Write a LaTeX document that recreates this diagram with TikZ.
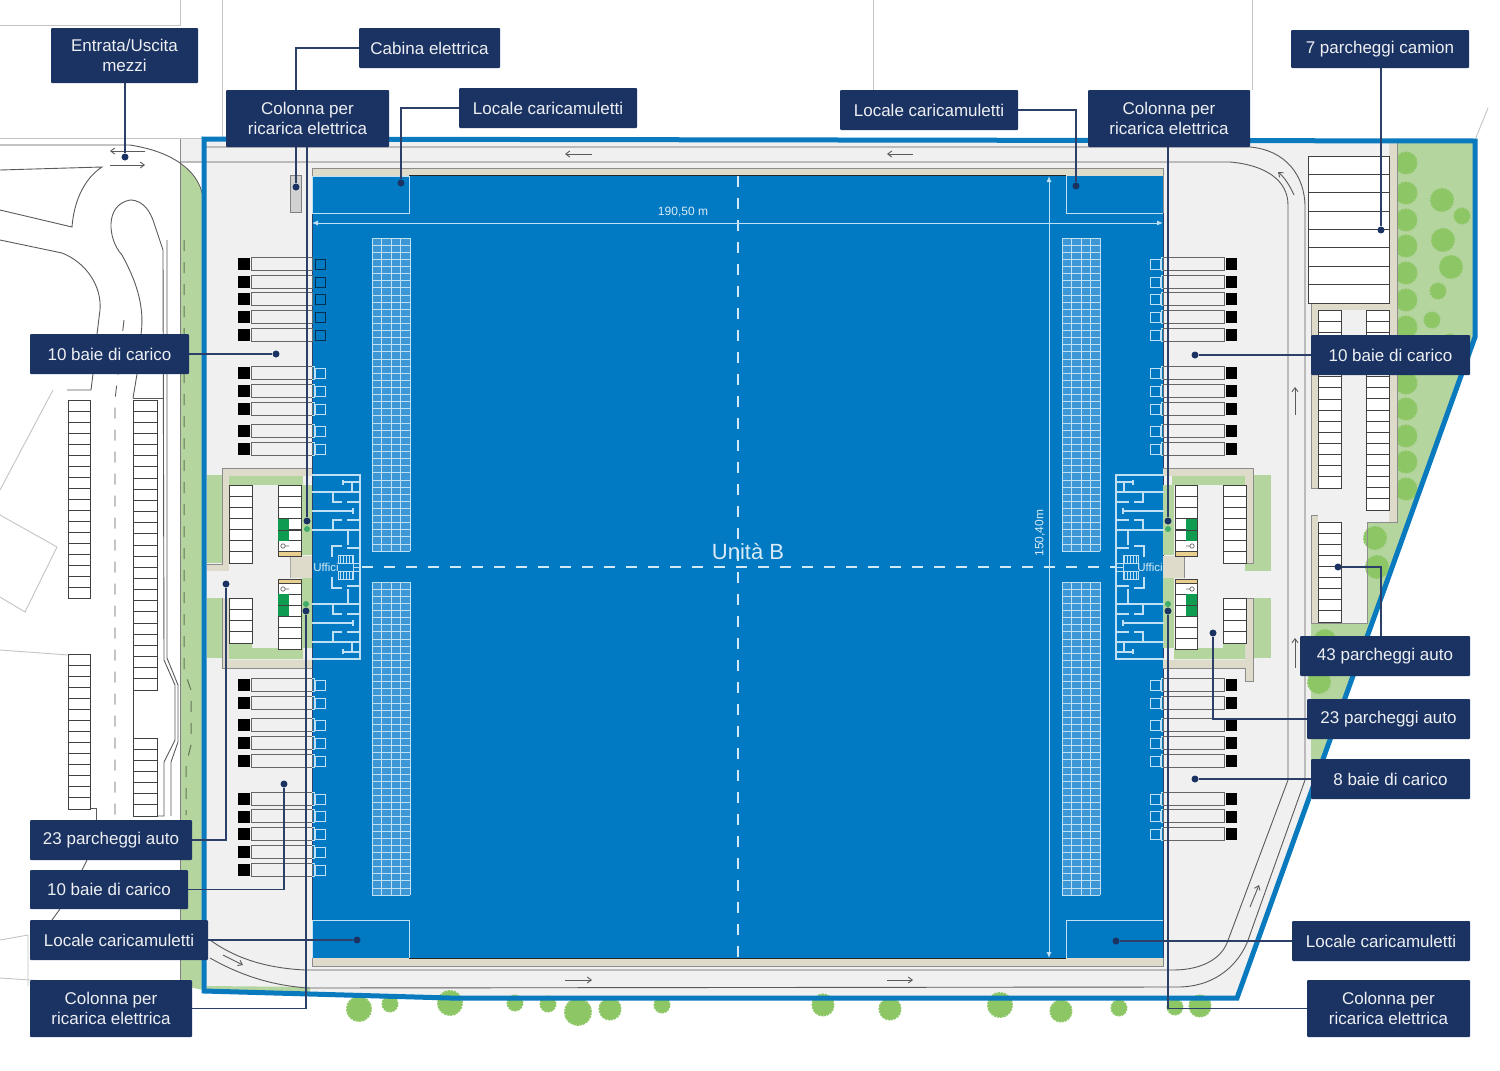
\documentclass[tikz,border=0pt]{standalone}
\usepackage{fontspec}
\setmainfont{Liberation Sans}
\usetikzlibrary{arrows.meta}
\pgfdeclarelayer{lab}
\pgfsetlayers{main,lab}
\definecolor{navy}{HTML}{1B3362}
\definecolor{connc}{HTML}{2C3F68}
\definecolor{siteblue}{HTML}{0A7ABF}
\definecolor{bldblue}{HTML}{0279C3}
\definecolor{floorg}{HTML}{F0F0F0}
\definecolor{lawn}{HTML}{B5D59F}
\definecolor{beigeb}{HTML}{DFDBCB}
\definecolor{treeg}{HTML}{8CC665}
\definecolor{stallg}{HTML}{0F9B50}
\definecolor{paleline}{HTML}{BFE0F5}
\definecolor{gridfill}{HTML}{3D97D4}
\definecolor{roadl}{HTML}{5A5A5A}
\definecolor{faint}{HTML}{C4C4C4}
\definecolor{strip}{HTML}{E8CF8F}
\tikzset{
  lbl/.style={fill=navy,text=white!92!navy,rounded corners=1pt,inner sep=0pt,align=center,font=\fontsize{17}{20}\selectfont},
  conn/.style={draw=connc,line width=1.2pt},
  dotn/.style={circle,fill=navy,inner sep=0pt,minimum size=7pt},
  roadline/.style={draw=roadl,line width=0.9pt},
  faintline/.style={draw=faint,line width=0.9pt},
  stall/.style={draw=black!75,line width=0.9pt},
  wall/.style={draw=paleline,line width=1.3pt},
  tinyarrow/.style={draw=roadl,line width=0.9pt,-{Straight Barb[length=4pt,width=6pt]}},
  dim/.style={draw=paleline,line width=1pt,{Latex[length=6pt,width=5pt]}-{Latex[length=6pt,width=5pt]}},
  dashw/.style={draw=paleline!70!white,line width=1.3pt,dash pattern=on 11pt off 11pt},
  bldtxt/.style={text=white!85!bldblue,inner sep=0pt},
  dockdoor/.style={draw=black!60,fill=floorg,line width=1pt},
  tree/.style={fill=treeg,draw=treeg,line width=2.2pt,dash pattern=on 2.4pt off 0.7pt}
}
\newcommand\parkrows[5]{%
  \fill[white] (#1,#3) rectangle (#2,#4);
  \draw[stall] (#1,#3) rectangle (#2,#4);
  \pgfmathsetmacro\rowstep{(#4-#3)/#5}
  \foreach \i in {1,...,#5}{\draw[stall] (#1,{#3+\i*\rowstep}) -- (#2,{#3+\i*\rowstep});}
}
\newcommand\gridblock[4]{%
  \fill[gridfill] (#1,#3) rectangle (#2,#4);
  \pgfmathsetmacro\vstep{(#2-#1)/4}
  \pgfmathsetmacro\rowsn{int((#4-#3)/7)}
  \pgfmathsetmacro\hstep{(#4-#3)/\rowsn}
  \foreach \i in {0,...,4}{\draw[paleline,line width=0.7pt] ({#1+\i*\vstep},#3) -- ({#1+\i*\vstep},#4);}
  \foreach \i in {0,...,\rowsn}{\draw[paleline,line width=0.7pt] (#1,{#3+\i*\hstep}) -- (#2,{#3+\i*\hstep});}
}
% office walls, upper left quarter; mirrored for the other three
\newcommand\officewalls{%
  \draw[wall] (312,475) -- (360,475) -- (360,567);
  \draw[wall] (312,492) -- (360,492);
  \draw[wall] (312,511) -- (353,511) (353,508) -- (353,514);
  \draw[wall] (312,530) -- (360,530);
  \draw[wall] (333,492) -- (333,502) -- (342,502) (347,502) -- (360,502);
  \draw[wall] (343,482) -- (360,482) (343,480) -- (343,485) (352,482) -- (352,492);
  \draw[wall] (342,520) -- (333,520) -- (333,530) (347,520) -- (360,520);
  \draw[wall] (348,530) -- (348,545);
  \draw[wall] (332,557) -- (332,546) -- (342,546) (347,548) -- (360,548);
  \draw[paleline,line width=0.7pt] (338,555) rectangle (353,563);
  \foreach \xx in {340,343,...,352}{\draw[paleline,line width=0.7pt] (\xx,555) -- (\xx,563);}
  \draw[paleline,line width=0.7pt] (353,563) rectangle (360,567);
}
\newcommand\treeat[3]{\filldraw[tree] (#1,#2) circle ({(#3-1.1)*1pt});}
\begin{document}
\begin{tikzpicture}[x=1pt,y=-1pt]
\useasboundingbox (0,0) rectangle (1500,1071);
\fill[white] (0,0) rectangle (1500,1071);
% --- surrounding plot lines
\draw[faintline] (0,25) -- (180,25) -- (180,0);
\draw[faintline] (222,0) -- (222,138);
\draw[faintline] (873,0) -- (873,108);
\draw[faintline] (1252,0) -- (1252,90);
\draw[faintline] (1475,140) -- (1488,108);
\draw[faintline] (0,138) -- (205,138);
\draw[faintline] (53,390) -- (0,490);
\draw[faintline] (0,515) -- (57,547) -- (25,612) -- (0,597);
\draw[faintline] (0,650) -- (68,655);
\draw[faintline] (0,940) -- (28,935) -- (28,986);
\draw[faintline] (0,978) -- (60,982);
% --- left access road
\draw[roadline] (0,145) -- (130,145) .. controls (155,149) and (170,156) .. (180,163);
\draw[roadline] (0,170) -- (102,167) .. controls (85,178) and (74,200) .. (72,227) -- (0,210);
\draw[roadline] (0,240) -- (62,253) .. controls (85,262) and (102,285) .. (100,310) -- (97,334);
\draw[roadline] (93,374) -- (91,390) -- (67,390);
\draw[roadline] (141,334) .. controls (146,300) and (130,270) .. (122,255) .. controls (108,240) and (104,205) .. (130,200) .. controls (145,200) and (151,215) .. (153,220) -- (163,250) -- (164,660) -- (175,685) -- (175,740) -- (164,762) -- (164,816) -- (133,816);
\draw[roadline] (137,374) -- (133,398);
\draw[roadline] (167,240) -- (167,658) -- (178,685) -- (178,742) -- (171,762) -- (171,816);
\draw[roadline] (133,398) -- (164,398);
\draw[roadline] (68,808) -- (96,808) -- (96,820);
\draw[roadline] (82,870) -- (87,860);
\draw[roadline] (52,920) -- (60,909);
\draw[roadline,dash pattern=on 11pt off 11pt] (124,320) -- (115,400) -- (115,816);
\parkrows{68}{90}{400}{598}{18}
\parkrows{68}{90}{654}{809}{14}
\parkrows{133}{157}{400}{690}{26}
\parkrows{133}{157}{738}{816}{7}
\draw[stall] (133,690) -- (133,738);
% --- entrance arrows
\draw[tinyarrow] (145,151) -- (110,151);
\draw[tinyarrow] (110,165) -- (145,165);
% --- site
\fill[floorg] (180,139) rectangle (204,163);
\draw[draw=black!45,line width=0.8pt] (180,139) -- (180,163);
\fill[lawn] (180,163) .. controls (190,170) and (200,180) .. (203,197) -- (203,990) -- (180,985) -- cycle;
\fill[floorg] (204,139) -- (1475,141) -- (1475,337) -- (1237,998) -- (450,998) -- (204,991) -- cycle;
\draw[black!50,line width=0.8pt] (180,163) -- (180,985);
\draw[draw=black!45!lawn,line width=1pt,dash pattern=on 11pt off 11pt] (184,240) -- (184,670) -- (191,690) -- (191,745) -- (186,765) -- (186,815);
\draw[roadl,line width=0.8pt] (180,163) .. controls (190,170) and (200,180) .. (203,197);
\fill[lawn] (207,986) -- (310,987) -- (310,994) -- (207,990) -- cycle;
% right green zone
\fill[lawn] (1397,143) -- (1473,143) -- (1473,337) -- (1322,760) -- (1311,760) -- (1311,623) -- (1367,623) -- (1367,522) -- (1396,522) -- cycle;
% trees
\foreach \yy in {163,193,220,246,273,300,327,353,383,409,436,462,489}{\treeat{1406}{\yy}{11.5}}
\treeat{1442}{200}{12}\treeat{1462}{216}{8.5}\treeat{1443}{240}{12}\treeat{1451}{267}{12}
\treeat{1438}{291}{8.5}\treeat{1432}{320}{8.5}\treeat{1450}{342}{8.5}
\treeat{1375}{538}{12}\treeat{1377}{567}{12}\treeat{1325}{640}{11}\treeat{1319}{682}{12}
\foreach \xx/\yy/\rr in {359/1009/13,390/1004/8.5,450/1003/13,515/1003/8.5,548/1004/8.5,578/1012/14,610/1009/11.5,662/1005/8.5,823/1005/11.5,890/1009/11.5,1000/1005/13,1061/1011/11.5,1119/1008/8.5,1175/1007/8.5,1200/1006/11.5}{\treeat{\xx}{\yy}{\rr}}
% roads inside site
\draw[roadline] (205,147) -- (1250,147) .. controls (1285,150) and (1305,175) .. (1305,207) -- (1305,780) -- (1247,943) .. controls (1235,970) and (1210,987) .. (1178,987) -- (307,988) .. controls (270,985) and (240,975) .. (210,958);
\draw[roadline] (180,162) -- (1230,162) .. controls (1265,165) and (1288,180) .. (1288,205) -- (1288,780) -- (1227,943) .. controls (1220,960) and (1200,970) .. (1173,970) -- (305,970) .. controls (265,968) and (235,958) .. (210,940);
\draw[tinyarrow] (592,154) -- (565,154);
\draw[tinyarrow] (913,154) -- (887,154);
\draw[tinyarrow] (565,980) -- (592,980);
\draw[tinyarrow] (887,980) -- (913,980);
\draw[tinyarrow] (223,955) -- (243,965);
\draw[tinyarrow] (1295,415) -- (1295,387);
\draw[tinyarrow] (1295,668) -- (1295,638);
\draw[tinyarrow] (1250,907) -- (1259,885);
\draw[tinyarrow] (1294,195) .. controls (1290,186) and (1285,178) .. (1278,172);
% right parking
\fill[beigeb] (1389,143) rectangle (1397,522);
\fill[beigeb] (1311,303) rectangle (1390,310);
\fill[beigeb] (1311,303) rectangle (1318,488);
\fill[beigeb] (1311,515) rectangle (1318,623);
\draw[black!45,line width=0.8pt] (1397,143) -- (1397,522) -- (1367,522) -- (1367,623) -- (1311,623);
\draw[black!45,line width=0.7pt] (1311,303) -- (1311,488) -- (1318,488) (1311,623) -- (1311,515) -- (1318,515);
\parkrows{1308}{1389}{156}{303}{8}
\parkrows{1318}{1341}{310}{488}{16}
\parkrows{1366}{1389}{310}{510}{18}
\parkrows{1318}{1341}{522}{622}{9}
% --- building
\fill[beigeb] (312,168) rectangle (1163,176);
\fill[beigeb] (312,958) rectangle (1163,966);
\draw[black!45,line width=0.7pt] (312,168) rectangle (1163,966);
\fill[bldblue] (312,176) rectangle (1163,958);
\draw[black!85,line width=1.2pt] (409,175.5) -- (1066,175.5) (409,958.5) -- (1066,958.5);
\draw[connc,line width=1pt] (312,213) -- (312,958) (1163,213) -- (1163,958);
\draw[paleline,line width=1pt] (312,176) rectangle (409,213);
\draw[paleline,line width=1pt] (1066,176) -- (1066,213) -- (1163,213);
\draw[paleline,line width=1pt] (312,958) -- (312,920) -- (409,920) -- (409,958);
\draw[paleline,line width=1pt] (1066,958) -- (1066,920) -- (1163,920);
\gridblock{372}{410}{238}{551}
\gridblock{372}{410}{582}{895}
\gridblock{1062}{1100}{238}{551}
\gridblock{1062}{1100}{582}{895}
\draw[dashw] (738,176) -- (738,958);
\draw[dashw] (362,567) -- (1115,567);
\draw[dim] (312,223) -- (1163,223);
\draw[dim] (1049,176) -- (1049,958);
\node[bldtxt,font=\fontsize{12}{14}\selectfont] (w) at (683,212) {190,50 m};
\node[bldtxt,font=\fontsize{12}{14}\selectfont,rotate=90] (h) at (1040,533) {150,40m};
\node[bldtxt,font=\fontsize{22}{26}\selectfont] (unit) at (748,552) {Unità B};
% --- loading docks
\foreach \yy in {264,282,299,317,335,373,391,409,431,449,685,703,725,743,761,799,816.5,834,852,870}{
  \fill[black] (238,\yy-6) rectangle (250,\yy+6);
  \draw[dockdoor] (251.5,\yy-7) rectangle (312,\yy+6);
}
\foreach \yy in {373,391,409,431,449,685,703,725,743,761,799,816.5,834,852,870}{
  \draw[paleline,line width=1pt] (315,\yy-5) rectangle (325,\yy+5);
  \draw[paleline,line width=1pt] (312,\yy-7) -- (314,\yy-7) -- (314,\yy+6) -- (312,\yy+6);
}
\foreach \yy in {264,282,299,317,335}{
  \draw[black!60!bldblue,line width=1pt] (315,\yy-5) rectangle (325,\yy+5);
}
\foreach \yy in {264,282,299,317,335,373,391,409,431,449,685,703,725,743,761,799,816.5,834}{
  \fill[black] (1226,\yy-6) rectangle (1237,\yy+6);
  \draw[dockdoor] (1163,\yy-7) rectangle (1224,\yy+6);
  \draw[paleline,line width=1pt] (1150,\yy-5) rectangle (1160,\yy+5);
  \draw[paleline,line width=1pt] (1163,\yy-7) -- (1161,\yy-7) -- (1161,\yy+6) -- (1163,\yy+6);
}
% --- cabin
\fill[black!18] (290,175) rectangle (301,212);
\draw[black!50,line width=0.8pt] (290,175) rectangle (301,212);
% --- left courtyard
\fill[lawn] (207,475) rectangle (222,563);
\fill[lawn] (207,598) rectangle (222,658);
\fill[beigeb] (222,468) rectangle (312,476);
\fill[beigeb] (222,468) rectangle (229,571);
\fill[beigeb] (207,564) rectangle (229,571);
\fill[beigeb] (222,598) rectangle (229,668);
\fill[beigeb] (222,660) rectangle (312,668);
\draw[black!45,line width=0.7pt] (222,468) -- (312,468) (222,468) -- (222,564) -- (207,564);
\draw[black!45,line width=0.7pt] (222,598) -- (222,668) -- (312,668);
\fill[lawn] (229,476) rectangle (303,485);
\fill[lawn] (302,485) rectangle (312,555);
\fill[lawn] (302,578) rectangle (312,648);
\fill[lawn] (229,643) -- (252,643) -- (252,648) -- (303,648) -- (303,659) -- (229,659) -- cycle;
\fill[beigeb] (290,556) rectangle (312,578);
\draw[black!45,line width=0.7pt] (290,556) rectangle (290,578);
\parkrows{229}{252}{485}{563}{7}
\parkrows{278}{301}{485}{551}{6}
\fill[stallg] (278,519) rectangle (289,541);
\draw[stall] (278,530) -- (301,530);
\fill[strip] (278,551) rectangle (301,556);
\draw[stall] (278,551) rectangle (301,556);
\parkrows{229}{252}{598}{643}{4}
\parkrows{278}{301}{583}{649}{6}
\fill[stallg] (278,594) rectangle (289,616);
\draw[stall] (278,605) -- (301,605);
\fill[strip] (278,579) rectangle (301,583);
\draw[stall] (278,579) rectangle (301,583);
\draw[black!60,line width=0.7pt] (283,546) circle (2.2pt) (285,546) -- (289,546);
\draw[black!60,line width=0.7pt] (283,589) circle (2.2pt) (285,589) -- (289,589);
\fill[stallg!70!lawn] (307,529) circle (3pt) (306,604) circle (3pt);
% --- right courtyard
\fill[lawn] (1253,475) rectangle (1271,571);
\fill[lawn] (1245,563) rectangle (1253,571);
\fill[lawn] (1253,598) rectangle (1271,658);
\fill[beigeb] (1163,468) rectangle (1253,476);
\fill[beigeb] (1245,468) rectangle (1253,563);
\fill[beigeb] (1245,598) rectangle (1253,681);
\fill[beigeb] (1163,660) rectangle (1253,668);
\draw[black!45,line width=0.7pt] (1163,468) -- (1253,468) -- (1253,563) -- (1245,563) (1223,598) -- (1253,598) -- (1253,681) -- (1245,681) -- (1245,668) -- (1163,668);
\fill[lawn] (1172,476) rectangle (1245,485);
\fill[lawn] (1163,485) rectangle (1174,555);
\fill[lawn] (1163,578) rectangle (1174,648);
\fill[lawn] (1174,648) -- (1223,648) -- (1223,643) -- (1245,643) -- (1245,659) -- (1174,659) -- cycle;
\fill[beigeb] (1163,556) rectangle (1184,578);
\draw[black!45,line width=0.7pt] (1184,556) -- (1184,578);
\parkrows{1175}{1197}{485}{551}{6}
\fill[stallg] (1186,519) rectangle (1197,541);
\draw[stall] (1175,530) -- (1197,530);
\fill[strip] (1175,551) rectangle (1197,556);
\draw[stall] (1175,551) rectangle (1197,556);
\parkrows{1223}{1246}{485}{563}{7}
\parkrows{1175}{1197}{583}{649}{6}
\fill[stallg] (1186,594) rectangle (1197,616);
\draw[stall] (1175,605) -- (1197,605);
\fill[strip] (1175,579) rectangle (1197,583);
\draw[stall] (1175,579) rectangle (1197,583);
\parkrows{1223}{1246}{598}{643}{4}
\draw[black!60,line width=0.7pt] (1192,546) circle (2.2pt) (1190,546) -- (1186,546);
\draw[black!60,line width=0.7pt] (1192,589) circle (2.2pt) (1190,589) -- (1186,589);
\fill[stallg!70!lawn] (1168,529) circle (3pt) (1168,604) circle (3pt);
% --- offices
\begin{scope}\officewalls\end{scope}
\begin{scope}[shift={(0,1134)},yscale=-1]\officewalls\end{scope}
\begin{scope}[shift={(1476,0)},xscale=-1]\officewalls\end{scope}
\begin{scope}[shift={(1476,1134)},xscale=-1,yscale=-1]\officewalls\end{scope}
\node[bldtxt,font=\fontsize{11.5}{13}\selectfont] (offL) at (326,567) {Uffici};
\node[bldtxt,font=\fontsize{11.5}{13}\selectfont] (offR) at (1150,567) {Uffici};
% --- site boundary
\draw[siteblue,line width=5pt,line join=miter] (204,139) -- (1475,141) -- (1475,337) -- (1237,998) -- (450,998) -- (204,991) -- cycle;
% --- labels
\begin{pgfonlayer}{lab}
\node[lbl,minimum width=147pt,minimum height=55pt] (entrata) at (124.5,55.5) {Entrata/Uscita\\mezzi};
\node[lbl,minimum width=141pt,minimum height=40pt] (cabina) at (429.5,48) {Cabina elettrica};
\node[lbl,minimum width=163pt,minimum height=57pt] (colTL) at (307.5,118.5) {Colonna per\\ricarica elettrica};
\node[lbl,minimum width=178pt,minimum height=40pt] (locTL) at (548,108) {Locale caricamuletti};
\node[lbl,minimum width=178pt,minimum height=40pt] (locTR) at (929,110) {Locale caricamuletti};
\node[lbl,minimum width=162pt,minimum height=57pt] (colTR) at (1169,118.5) {Colonna per\\ricarica elettrica};
\node[lbl,minimum width=178pt,minimum height=38pt] (camion) at (1380,49) {7 parcheggi camion};
\node[lbl,minimum width=159pt,minimum height=40pt] (baieL) at (109.5,354) {10 baie di carico};
\node[lbl,minimum width=159pt,minimum height=40pt] (baieR) at (1390.5,355) {10 baie di carico};
\node[lbl,minimum width=170pt,minimum height=40pt] (p43) at (1385,656) {43 parcheggi auto};
\node[lbl,minimum width=163pt,minimum height=40pt] (p23R) at (1388.5,719) {23 parcheggi auto};
\node[lbl,minimum width=159pt,minimum height=40pt] (baie8) at (1390.5,779) {8 baie di carico};
\node[lbl,minimum width=178pt,minimum height=40pt] (locBR) at (1381,941) {Locale caricamuletti};
\node[lbl,minimum width=163pt,minimum height=57pt] (colBR) at (1388.5,1008.5) {Colonna per\\ricarica elettrica};
\node[lbl,minimum width=162pt,minimum height=40pt] (p23L) at (111,840) {23 parcheggi auto};
\node[lbl,minimum width=158pt,minimum height=39pt] (baieB) at (109,889.5) {10 baie di carico};
\node[lbl,minimum width=178pt,minimum height=40pt] (locBL) at (119,940) {Locale caricamuletti};
\node[lbl,minimum width=162pt,minimum height=57pt] (colBL) at (111,1008.5) {Colonna per\\ricarica elettrica};
\end{pgfonlayer}
% --- connector ends
\node[dotn] (dEntrata) at (125,157) {};
\node[dotn] (dCabina) at (296,187) {};
\node[dotn] (dColTL) at (307,521) {};
\node[dotn] (dColBL) at (306,611) {};
\node[dotn] (dColTR) at (1168,521) {};
\node[dotn] (dColBR) at (1168,611) {};
\node[dotn] (dLocTL) at (401,183) {};
\node[dotn] (dLocTR) at (1076,186) {};
\node[dotn] (dCamion) at (1381,230) {};
\node[dotn] (dBaieL) at (276,354) {};
\node[dotn] (dBaieR) at (1195,355) {};
\node[dotn] (d43) at (1338,567) {};
\node[dotn] (d23R) at (1213,633) {};
\node[dotn] (d8) at (1195,779) {};
\node[dotn] (dLocBR) at (1116,941) {};
\node[dotn] (d23L) at (226,584) {};
\node[dotn] (dBaieB) at (284,784) {};
\node[dotn] (dLocBL) at (357,940) {};
\coordinate (j43) at (1381,636);
\coordinate (jCabina) at (296,48);
\coordinate (jColTL) at (307,147);
\coordinate (jColTR) at (1168,147);
\coordinate (jEntrata) at (125,83);
\coordinate (jCamion) at (1381,68);
% --- connectors
\draw[conn] (jEntrata) -- (dEntrata);
\draw[conn] (cabina.west) -- (jCabina) -- (dCabina);
\draw[conn] (jColTL) -- (dColTL);
\draw[conn] (jColTR) -- (dColTR);
\draw[conn] (locTL.west) -| (dLocTL);
\draw[conn] (locTR.east) -| (dLocTR);
\draw[conn] (jCamion) -- (dCamion);
\draw[conn] (baieL.east) -- (dBaieL);
\draw[conn] (baieR.west) -- (dBaieR);
\draw[conn] (j43) -- (1381,567) -- (d43);
\draw[conn] (p23R.west) -| (d23R);
\draw[conn] (baie8.west) -- (d8);
\draw[conn] (locBR.west) -- (dLocBR);
\draw[conn] (p23L.east) -| (d23L);
\draw[conn] (baieB.east) -| (dBaieB);
\draw[conn] (locBL.east) -- (dLocBL);
\draw[conn] (colBL.east) -| (dColBL);
\draw[conn] (colBR.west) -| (dColBR);
\end{tikzpicture}
\end{document}
